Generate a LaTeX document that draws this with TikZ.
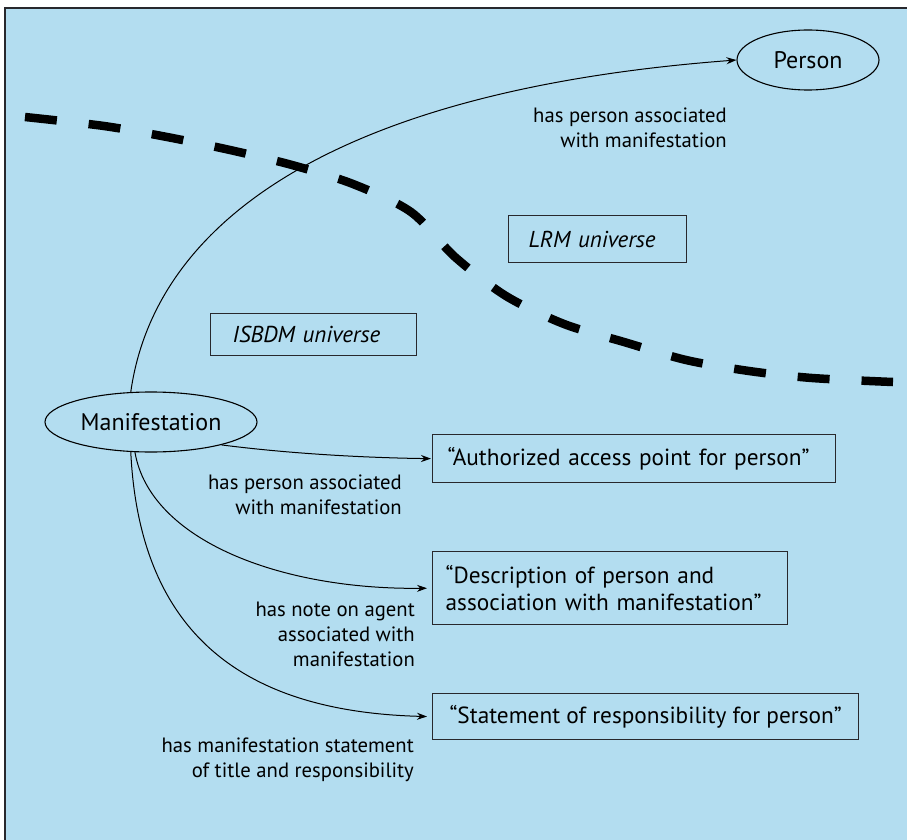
\documentclass[tikz,border=0pt]{standalone}
\usepackage{fontspec}
\setmainfont{PT Sans}
\usetikzlibrary{shapes.geometric,arrows.meta}
\definecolor{sky}{RGB}{179,221,240}
\definecolor{edge}{RGB}{40,40,45}
\begin{document}
\begin{tikzpicture}[x=1pt,y=-1pt,
  entity/.style={draw=black,ellipse,line width=1.1pt,inner sep=0pt,font=\fontsize{24}{28}\selectfont},
  litbox/.style={draw=edge,line width=1.3pt,rectangle,align=left,font=\fontsize{23.3}{28.5}\selectfont,inner ysep=0pt},
  unibox/.style={draw=edge,line width=1.3pt,rectangle,align=left,font=\fontsize{23}{26}\selectfont\itshape,inner ysep=0pt},
  rel/.style={line width=1pt,-{Stealth[length=10pt,width=7pt]}},
  rellabel/.style={inner sep=0pt,align=right,anchor=north east,font=\fontsize{20.7}{25}\selectfont},
  boundary/.style={line width=8.5pt,dash pattern=on 32pt off 32pt}]
\useasboundingbox (0,0) rectangle (907,840);
% backdrop
\fill[sky] (5,8) rectangle (907,840);
\draw[line width=1.2pt,edge] (907,8) -- (5,8) -- (5,840);

% boundary between the two universes
\draw[boundary] plot[smooth,tension=0.5] coordinates {(25,117) (104,126) (167,137) (230,150) (292,165) (353,184) (411,212) (455,257) (506,296) (564,324) (624,342) (686,360) (749,371) (812,378) (893,382)};

% entities
\node[entity,minimum width=142,minimum height=60] (person) at (808,60) {Person};
\node[entity,minimum width=212,minimum height=60] (manif) at (151,422) {Manifestation};

% universe labels
\node[unibox,anchor=north west,inner xsep=20pt,text width=138pt,minimum height=47pt] (lrm) at (508,215) {LRM universe};
\node[unibox,anchor=north west,inner xsep=22pt,text width=162pt,minimum height=42pt] (isbdm) at (210,313) {ISBDM universe};

% literal values
\node[litbox,anchor=north west,inner xsep=15pt,text width=373pt,minimum height=48pt] (auth) at (432,434) {“Authorized access point for person”};
\node[litbox,anchor=north west,inner xsep=13pt,text width=329pt,minimum height=73pt] (desc) at (432,551) {“Description of person and\\[-1pt]association with manifestation”};
\node[litbox,anchor=north west,minimum width=426pt,minimum height=46pt] (stmt) at (432,693) {“Statement of responsibility for person”};

% relationships
\draw[rel] (manif.124) .. controls (155,220) and (338,90) .. (person.west);
\draw[rel,shorten >=1pt] (manif.-18) .. controls (300,455) and (380,458) .. (auth.west);
\draw[rel,shorten >=5pt] (manif.-118) .. controls (150,540) and (280,590) .. (desc.west);
\draw[rel,shorten >=5pt] (manif.-124) .. controls (140,640) and (250,712) .. (stmt.west);

% relationship labels
\node[rellabel] (l1) at (727,108) {has person associated\\with manifestation};
\node[rellabel] (l2) at (402,475) {has person associated\\with manifestation};
\node[rellabel] (l3) at (415,602) {has note on agent\\associated with\\manifestation};
\node[rellabel] (l4) at (414,738) {has manifestation statement\\of title and responsibility};
\end{tikzpicture}
\end{document}
